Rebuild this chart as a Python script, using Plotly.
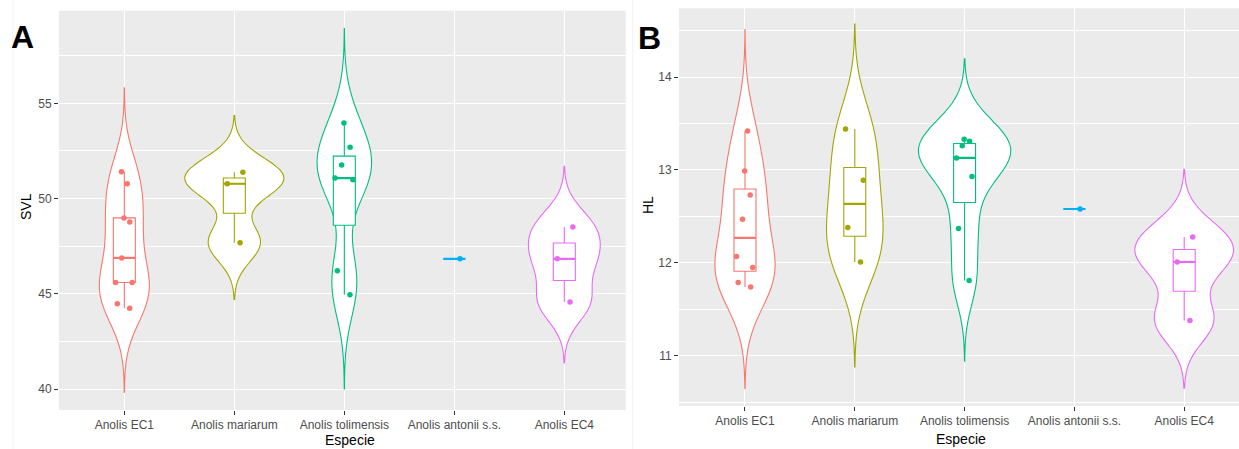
import numpy as np
import plotly.graph_objects as go

# ---------------- data ----------------
species = ["Anolis EC1", "Anolis mariarum", "Anolis tolimensis",
           "Anolis antonii s.s.", "Anolis EC4"]
colors = ["#F8766D", "#A3A500", "#00BF7D", "#00B0F6", "#E76BF3"]

svl_ec1 = [51.41, 50.78, 48.99, 48.78, 46.89, 45.60, 45.60, 44.49, 44.25]
svl_mariarum = [51.38, 50.78, 47.69]
svl_tolimensis = [53.97, 52.70, 51.76, 51.08, 50.99, 46.22, 44.96]
svl_antonii = [46.84]
svl_ec4 = [48.51, 46.84, 44.57]

hl_ec1 = [13.42, 12.99, 12.73, 12.47, 12.07, 11.95, 11.79, 11.74]
hl_mariarum = [13.44, 12.89, 12.38, 12.01]
hl_tolimensis = [13.33, 13.31, 13.26, 13.13, 12.93, 12.37, 11.81]
hl_antonii = [12.58]
hl_ec4 = [12.28, 12.01, 11.38]

svl_ticks = [40, 45, 50, 55]
hl_ticks = [11, 12, 13, 14]

svl = [svl_ec1, svl_mariarum, svl_tolimensis, svl_antonii, svl_ec4]
hl = [hl_ec1, hl_mariarum, hl_tolimensis, hl_antonii, hl_ec4]

# ---------------- helpers (ggplot2-like stats) ----------------
def bw_nrd0(v):
    v = np.asarray(v, float)
    sd = np.std(v, ddof=1)
    q1, q3 = np.percentile(v, [25, 75])
    lo = min(sd, (q3 - q1) / 1.34)
    if lo <= 0:
        lo = sd if sd > 0 else 1.0
    return 0.9 * lo * len(v) ** -0.2


def kde_max(v, bw):
    v = np.asarray(v, float)
    g = np.linspace(v.min() - 3 * bw, v.max() + 3 * bw, 512)
    d = np.exp(-0.5 * ((g[:, None] - v[None, :]) / bw) ** 2).sum(1)
    return (d / (len(v) * bw * np.sqrt(2 * np.pi))).max()


def box_stats(v):
    v = np.sort(np.asarray(v, float))
    q1, med, q3 = np.percentile(v, [25, 50, 75])
    iqr = q3 - q1
    lf = v[v >= q1 - 1.5 * iqr].min()
    uf = v[v <= q3 + 1.5 * iqr].max()
    return q1, med, q3, lf, uf


FONT = "Liberation Sans, Arial, sans-serif"
fig = go.Figure()


def add_panel(groups, xa, ya):
    bws = [bw_nrd0(g) if len(g) > 1 else None for g in groups]
    dmax = [kde_max(g, b) if b else 0 for g, b in zip(groups, bws)]
    gmax = max(dmax)
    for i, (g, c, b, dm) in enumerate(zip(groups, colors, bws, dmax)):
        pos = i + 1
        if b:
            fig.add_trace(go.Violin(
                x0=pos, y=g, xaxis=xa, yaxis=ya, bandwidth=b,
                spanmode="manual", span=[min(g) - 3 * b, max(g) + 3 * b],
                scalemode="width", width=0.9 * dm / gmax,
                fillcolor="white", line=dict(color=c, width=1.1),
                points=False, box_visible=False, meanline_visible=False,
                hoverinfo="skip", showlegend=False))
        q1, med, q3, lf, uf = box_stats(g)
        fig.add_trace(go.Box(
            x=[pos], q1=[q1], median=[med], q3=[q3],
            lowerfence=[lf], upperfence=[uf], xaxis=xa, yaxis=ya,
            width=0.2, whiskerwidth=0, fillcolor="white",
            line=dict(color=c, width=1.1), boxpoints=False,
            hoverinfo="skip", showlegend=False))
        fig.add_trace(go.Scatter(
            x=[pos - 0.1, pos + 0.1], y=[med, med], xaxis=xa, yaxis=ya,
            mode="lines", line=dict(color=c, width=2.2),
            hoverinfo="skip", showlegend=False))
        fig.add_trace(go.Box(
            x0=pos, y=g, xaxis=xa, yaxis=ya, width=0.2,
            boxpoints="all", jitter=1, pointpos=0,
            fillcolor="rgba(0,0,0,0)",
            line=dict(color="rgba(0,0,0,0)", width=0),
            marker=dict(color=c, size=5.5),
            hoverinfo="skip", showlegend=False))


add_panel(svl, "x", "y")
add_panel(hl, "x2", "y2")

W, H = 1239, 449

xcommon = dict(
    tickmode="array", tickvals=list(range(1, 6)), ticktext=species,
    showgrid=True, gridcolor="white", gridwidth=1.2, zeroline=False,
    ticks="outside", ticklen=4, tickcolor="#333333", tickwidth=1,
    tickfont=dict(family=FONT, size=12, color="#4D4D4D"),
    showline=False, fixedrange=True)
ycommon = dict(
    showgrid=True, gridcolor="white", gridwidth=1.2, zeroline=False,
    ticks="outside", ticklen=4, tickcolor="#333333", tickwidth=1,
    tickfont=dict(family=FONT, size=12, color="#4D4D4D"),
    showline=False, fixedrange=True)

fig.update_layout(
    width=W, height=H, autosize=False,
    margin=dict(l=0, r=0, t=0, b=0),
    paper_bgcolor="white", plot_bgcolor="#EBEBEB",
    boxmode="overlay", violinmode="overlay",
    xaxis=dict(domain=[59 / W, 625.7 / W], range=[0.406, 5.558], **xcommon),
    yaxis=dict(domain=[(H - 410) / H, (H - 10.7) / H], range=[38.91, 59.86],
               tickmode="array", tickvals=svl_ticks,
               minor=dict(showgrid=True, gridcolor="white", gridwidth=0.6,
                          tickmode="array",
                          tickvals=[42.5, 47.5, 52.5, 57.5], ticks=""),
               **ycommon),
    xaxis2=dict(domain=[679 / W, 1.0], range=[0.399, 5.499], anchor="y2",
                **xcommon),
    yaxis2=dict(domain=[(H - 406) / H, (H - 8.3) / H], range=[10.46, 14.74],
                anchor="x2", tickmode="array", tickvals=hl_ticks,
                minor=dict(showgrid=True, gridcolor="white", gridwidth=0.6,
                           tickmode="array", tickvals=[10.5, 11.5, 12.5, 13.5, 14.5],
                           ticks=""),
                **ycommon),
)


def px(x, y):
    return x / W, (H - y) / H


annots = []
for txt, (x, y), size, bold, angle in [
    ("A", (22, 37), 32, True, 0),
    ("B", (649, 38), 32, True, 0),
    ("SVL", (26, 207), 14, False, -90),
    ("HL", (648, 205), 14, False, -90),
    ("Especie", (349.5, 440), 14, False, 0),
    ("Especie", (960.7, 439), 14, False, 0),
]:
    ax, ay = px(x, y)
    annots.append(dict(
        text=f"<b>{txt}</b>" if bold else txt, x=ax, y=ay,
        xref="paper", yref="paper", xanchor="center", yanchor="middle",
        showarrow=False, textangle=angle,
        font=dict(family=FONT, size=size, color="black")))
fig.update_layout(annotations=annots)

for xl in (13, 632.7):
    fig.add_shape(type="line", xref="paper", yref="paper",
                  x0=xl / W, x1=xl / W, y0=0, y1=1,
                  line=dict(color="#F3F3F3", width=1))

fig.write_html("out.html")
